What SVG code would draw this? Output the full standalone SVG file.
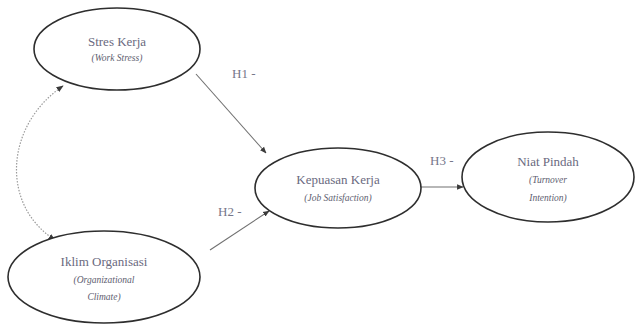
<svg xmlns="http://www.w3.org/2000/svg" width="638" height="326" viewBox="0 0 638 326">
  <style>
    .node ellipse { fill: #ffffff; stroke: #2e2e2e; stroke-width: 1.6; }
    .title { font-family: "Liberation Serif", "Times New Roman", serif; font-size: 13px; fill: #6a6a80; text-anchor: middle; }
    .sub { font-family: "Liberation Serif", "Times New Roman", serif; font-size: 9.5px; font-style: italic; fill: #5e5e70; text-anchor: middle; }
    .lbl { font-family: "Liberation Serif", "Times New Roman", serif; font-size: 13px; fill: #76768a; }
    .edge { fill: none; stroke: #707070; stroke-width: 1.1; }
    .corr { fill: none; stroke: #9a9a9a; stroke-width: 1.2; stroke-dasharray: 1.5 1.5; }
  </style>
  <defs>
    <marker id="arrow" viewBox="0 0 10 10" refX="9" refY="5" markerWidth="6" markerHeight="6" orient="auto-start-reverse">
      <path d="M0,1 L10,5 L0,9 z" fill="#3a3a3a"/>
    </marker>
  </defs>
  <rect width="638" height="326" fill="#ffffff"/>

  <!-- arrows between constructs, with their hypothesis labels -->
  <g id="connectors">
    <path class="corr" d="M63,86 C5,125 0,205 55,240" marker-start="url(#arrow)" marker-end="url(#arrow)"/>
    <path class="edge" d="M196,74 L266,153" marker-end="url(#arrow)"/>
    <path class="edge" d="M210,250 L269,211" marker-end="url(#arrow)"/>
    <path class="edge" d="M421,187 L463,187" marker-end="url(#arrow)"/>
    <text class="lbl" x="232" y="78">H1 -</text>
    <text class="lbl" x="218" y="216">H2 -</text>
    <text class="lbl" x="430" y="165">H3 -</text>
  </g>

  <g id="stres-kerja" class="node">
    <ellipse cx="117" cy="49" rx="83" ry="41"/>
    <text class="title" x="117" y="46">Stres Kerja</text>
    <text class="sub" x="117" y="61">(Work Stress)</text>
  </g>

  <g id="iklim-organisasi" class="node">
    <ellipse cx="104" cy="277" rx="96" ry="46"/>
    <text class="title" x="104" y="266">Iklim Organisasi</text>
    <text class="sub" x="104" y="283">(Organizational</text>
    <text class="sub" x="104" y="300">Climate)</text>
  </g>

  <g id="kepuasan-kerja" class="node">
    <ellipse cx="338" cy="188" rx="83" ry="40"/>
    <text class="title" x="338" y="184">Kepuasan Kerja</text>
    <text class="sub" x="338" y="201">(Job Satisfaction)</text>
  </g>

  <g id="niat-pindah" class="node">
    <ellipse cx="548" cy="177" rx="86" ry="45"/>
    <text class="title" x="548" y="166">Niat Pindah</text>
    <text class="sub" x="548" y="183">(Turnover</text>
    <text class="sub" x="548" y="201">Intention)</text>
  </g>
</svg>
